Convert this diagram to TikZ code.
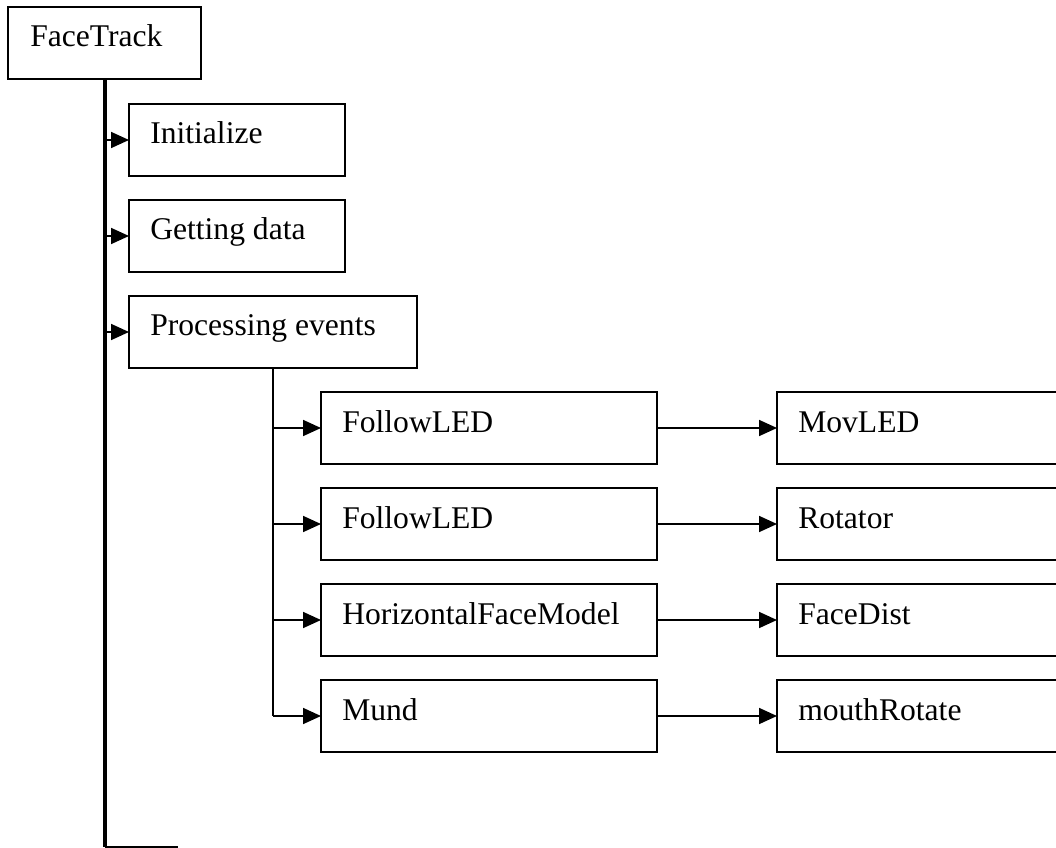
\documentclass[tikz,border=0pt]{standalone}
\usepackage{fontspec}
\setmainfont{Liberation Serif}
\usetikzlibrary{arrows.meta}
\begin{document}
\begin{tikzpicture}[x=0.75pt,y=-0.75pt,
  box/.style={draw,line width=1.6pt,rectangle,inner sep=0pt,outer sep=0pt,anchor=north west,minimum height=72*0.75pt},
  lbl/.style={anchor=base west,inner sep=0pt,font=\fontsize{23.7pt}{28pt}\selectfont},
  arr/.style={line width=1.3pt,-{Triangle[length=13.5pt,width=12pt]}},
  trunk/.style={line width=2.7pt},
  subtrunk/.style={line width=2.2pt}]
\useasboundingbox (0,0) rectangle (1056,848);
\clip (0,0) rectangle (1056,848);
% top level
\node[box,minimum width=193*0.75pt] (ft) at (8,7) {};
\node[lbl] (ftt) at (30,47) {FaceTrack};
\node[box,minimum width=216*0.75pt] (init) at (129,104) {};
\node[lbl] (initt) at (150,144) {Initialize};
\node[box,minimum width=216*0.75pt] (get) at (129,200) {};
\node[lbl] (gett) at (150,240) {Getting data};
\node[box,minimum width=288*0.75pt] (pe) at (129,296) {};
\node[lbl] (pet) at (150,336) {Processing events};
% second level
\node[box,minimum width=336*0.75pt] (f1) at (321,392) {};
\node[lbl] (f1t) at (342,432) {FollowLED};
\node[box,minimum width=336*0.75pt] (f2) at (321,488) {};
\node[lbl] (f2t) at (342,528) {FollowLED};
\node[box,minimum width=336*0.75pt] (hfm) at (321,584) {};
\node[lbl] (hfmt) at (342,624) {HorizontalFaceModel};
\node[box,minimum width=336*0.75pt] (mund) at (321,680) {};
\node[lbl] (mundt) at (342,720) {Mund};
% third level
\node[box,minimum width=320*0.75pt] (mov) at (777,392) {};
\node[lbl] (movt) at (798,432) {MovLED};
\node[box,minimum width=320*0.75pt] (rot) at (777,488) {};
\node[lbl] (rott) at (798,528) {Rotator};
\node[box,minimum width=320*0.75pt] (fd) at (777,584) {};
\node[lbl] (fdt) at (798,624) {FaceDist};
\node[box,minimum width=320*0.75pt] (mr) at (777,680) {};
\node[lbl] (mrt) at (798,720) {mouthRotate};
% main trunk
\coordinate (bend) at (105,847);
\coordinate (tail) at (178,847);
\draw[trunk] (ft.south -| bend) -- (bend);
\draw[line width=1.6pt] (bend) -- (tail);
\draw[arr] (bend |- init.west) -- (init.west);
\draw[arr] (bend |- get.west) -- (get.west);
\draw[arr] (bend |- pe.west) -- (pe.west);
% sub trunk
\coordinate (st) at (273,368);
\draw[subtrunk] (st) -- (st |- mund.west);
\draw[arr] (st |- f1.west) -- (f1.west);
\draw[arr] (st |- f2.west) -- (f2.west);
\draw[arr] (st |- hfm.west) -- (hfm.west);
\draw[arr] (st |- mund.west) -- (mund.west);
% right arrows
\draw[arr] (f1.east) -- (mov.west);
\draw[arr] (f2.east) -- (rot.west);
\draw[arr] (hfm.east) -- (fd.west);
\draw[arr] (mund.east) -- (mr.west);
\end{tikzpicture}
\end{document}
